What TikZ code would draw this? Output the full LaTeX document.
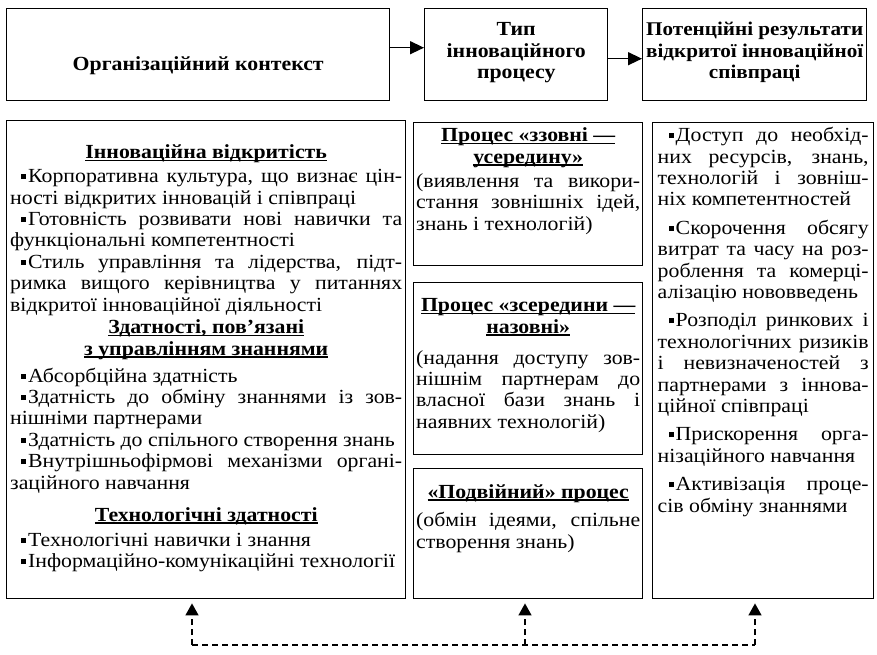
\documentclass[tikz,border=0pt]{standalone}
\usepackage{fontspec}
\setmainfont[FakeStretch=1.09]{Liberation Serif}
\usetikzlibrary{arrows.meta}

\newcommand\bul{\hspace*{11pt}\rule[3.5pt]{5pt}{5pt}\hspace{2pt}}
\newcommand\hd[1]{\leavevmode\setbox0=\hbox{\bfseries #1}\rlap{\rule[-2.5pt]{\wd0}{1.3pt}}\box0}
\newcommand\boxtext[3]{\begin{minipage}[t][#2][t]{#1}%
  \fontsize{20}{21.4}\selectfont\lineskiplimit=-20pt\tolerance=10000\hyphenpenalty=10000\relax
  #3\end{minipage}}

\begin{document}
\begin{tikzpicture}[x=1pt,y=-1pt,
  box/.style={draw, line width=1.4pt, anchor=north west, inner sep=0pt},
  flow/.style={line width=1.4pt, -{Triangle[length=14pt,width=13pt]}},
  feed/.style={line width=1.4pt, dash pattern=on 6pt off 4pt},
  feedup/.style={feed, shorten >=4pt, -{Triangle[length=12pt,width=13pt]}}]
  \useasboundingbox (0,0) rectangle (877,654);

  % top row
  \node[box, minimum width=383pt, minimum height=92pt] (org) at (6,8)
    {\boxtext{375pt}{92pt}{\centering\bfseries\rule{0pt}{62pt}Організаційний контекст\par}};
  \node[box, minimum width=183pt, minimum height=92pt] (type) at (424,8)
    {\boxtext{175pt}{92pt}{\centering\bfseries\rule{0pt}{27pt}Тип\\інноваційного\\процесу\par}};
  \node[box, minimum width=224pt, minimum height=92pt] (res) at (642,8)
    {\boxtext{218pt}{92pt}{\centering\bfseries\fontsize{19.4}{21.4}\selectfont
      \rule{0pt}{27pt}\makebox[\linewidth]{Потенційні результати}\\
      \makebox[\linewidth]{відкритої інноваційної}\\співпраці\par}};
  \draw[flow] ([yshift=7pt]org.east) -- ([yshift=7pt]org.east -| type.west);
  \draw[flow] ([yshift=-4pt]type.east) -- ([yshift=-4pt]type.east -| res.west);

  % organisational context
  \node[box, minimum width=399pt, minimum height=478pt] (ctx) at (6,120)
    {\boxtext{392pt}{478pt}{%
      {\centering\rule{0pt}{38pt}\hd{Інноваційна відкритість}\par}
      \vspace{2.6pt}
      \bul Корпоративна культура, що визнає цін-\linebreak ності відкритих інновацій і співпраці\par
      \bul Готовність розвивати нові навички та\linebreak функціональні компетентності\par
      \bul Стиль управління та лідерства, підт-\linebreak римка вищого керівництва у питаннях\linebreak відкритої інноваційної діяльності\par
      \vspace{1.2pt}
      {\centering\hd{Здатності, пов’язані}\\\hd{з управлінням знаннями}\par}
      \vspace{5.6pt}
      \bul Абсорбційна здатність\par
      \bul Здатність до обміну знаннями із зов-\linebreak нішніми партнерами\par
      \bul Здатність до спільного створення знань\par
      \bul Внутрішньофірмові механізми органі-\linebreak заційного навчання\par
      \vspace{10.6pt}
      {\centering\hd{Технологічні здатності}\par}
      \vspace{3.6pt}
      \bul Технологічні навички і знання\par
      \bul Інформаційно-комунікаційні технології\par}};

  % process types
  \node[box, minimum width=229pt, minimum height=143pt] (pin) at (413,122)
    {\boxtext{224pt}{143pt}{%
      {\centering\rule{0pt}{19pt}\hd{Процес «ззовні —}\\\hd{усередину»}\par}
      \vspace{3pt}
      (виявлення та викори-\linebreak стання зовнішніх ідей,\linebreak знань і технологій)\par}};
  \node[box, minimum width=229pt, minimum height=172pt] (pout) at (413,282)
    {\boxtext{224pt}{172pt}{%
      {\centering\rule{0pt}{29pt}\hd{Процес «зсередини —}\\\hd{назовні»}\par}
      \vspace{9.6pt}
      (надання доступу зов-\linebreak нішнім партнерам до\linebreak власної бази знань і\linebreak наявних технологій)\par}};
  \node[box, minimum width=229pt, minimum height=130pt] (pdual) at (413,468)
    {\boxtext{224pt}{130pt}{%
      {\centering\rule{0pt}{29.5pt}\hd{«Подвійний» процес}\par}
      \vspace{7pt}
      (обмін ідеями, спільне\linebreak створення знань)\par}};

  % outcomes
  \node[box, minimum width=221pt, minimum height=476pt] (gain) at (652,122)
    {\boxtext{211pt}{476pt}{\parskip=7pt
      \rule{0pt}{19pt}\bul Доступ до необхід-\linebreak них ресурсів, знань,\linebreak технологій і зовніш-\linebreak ніх компетентностей\par
      \bul Скорочення обсягу\linebreak витрат та часу на роз-\linebreak роблення та комерці-\linebreak алізацію нововведень\par
      \bul Розподіл ринкових і\linebreak технологічних ризиків\linebreak і невизначеностей з\linebreak партнерами з іннова-\linebreak ційної співпраці\par
      \bul Прискорення орга-\linebreak нізаційного навчання\par
      \bul Активізація проце-\linebreak сів обміну знаннями\par}};

  % feedback
  \coordinate (fbl) at (192,645);
  \coordinate (fbm) at (525,645);
  \coordinate (fbr) at (755,645);
  \draw[feed] (fbl) -- (fbr);
  \draw[feedup] (fbl) -- (fbl |- ctx.south);
  \draw[feedup] (fbm) -- (fbm |- pdual.south);
  \draw[feedup] (fbr) -- (fbr |- gain.south);
\end{tikzpicture}
\end{document}
